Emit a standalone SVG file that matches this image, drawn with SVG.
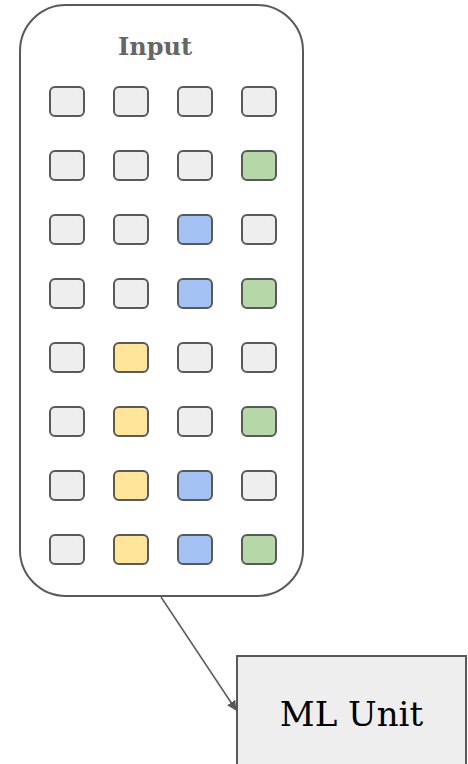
<svg xmlns="http://www.w3.org/2000/svg" width="468" height="764" viewBox="0 0 468 764">
<style>
.c{stroke:#595959;stroke-width:2}
.w{fill:#eeeeee}.y{fill:#ffe599}.b{fill:#a4c2f4}.g{fill:#b6d7a8}
</style>
<defs>
<marker id="ah" markerWidth="10" markerHeight="10" refX="9" refY="5" orient="auto" markerUnits="userSpaceOnUse">
<path d="M0,0 L10,5 L0,10 z" fill="#595959"/>
</marker>
</defs>
<g id="input">
<rect x="20" y="5" width="283" height="591" rx="46" fill="#ffffff" stroke="#595959" stroke-width="2"/>
<text x="155" y="55" text-anchor="middle" font-family="DejaVu Serif, serif" font-weight="bold" font-size="24" fill="#666666">Input</text>
</g>
<g id="cells">
<g transform="translate(50,87)">
<rect class="c w" x="0" y="0" width="34" height="29" rx="5"/><rect class="c w" x="64" y="0" width="34" height="29" rx="5"/><rect class="c w" x="128" y="0" width="34" height="29" rx="5"/><rect class="c w" x="192" y="0" width="34" height="29" rx="5"/>
<rect class="c w" x="0" y="64" width="34" height="29" rx="5"/><rect class="c w" x="64" y="64" width="34" height="29" rx="5"/><rect class="c w" x="128" y="64" width="34" height="29" rx="5"/><rect class="c g" x="192" y="64" width="34" height="29" rx="5"/>
<rect class="c w" x="0" y="128" width="34" height="29" rx="5"/><rect class="c w" x="64" y="128" width="34" height="29" rx="5"/><rect class="c b" x="128" y="128" width="34" height="29" rx="5"/><rect class="c w" x="192" y="128" width="34" height="29" rx="5"/>
<rect class="c w" x="0" y="192" width="34" height="29" rx="5"/><rect class="c w" x="64" y="192" width="34" height="29" rx="5"/><rect class="c b" x="128" y="192" width="34" height="29" rx="5"/><rect class="c g" x="192" y="192" width="34" height="29" rx="5"/>
<rect class="c w" x="0" y="256" width="34" height="29" rx="5"/><rect class="c y" x="64" y="256" width="34" height="29" rx="5"/><rect class="c w" x="128" y="256" width="34" height="29" rx="5"/><rect class="c w" x="192" y="256" width="34" height="29" rx="5"/>
<rect class="c w" x="0" y="320" width="34" height="29" rx="5"/><rect class="c y" x="64" y="320" width="34" height="29" rx="5"/><rect class="c w" x="128" y="320" width="34" height="29" rx="5"/><rect class="c g" x="192" y="320" width="34" height="29" rx="5"/>
<rect class="c w" x="0" y="384" width="34" height="29" rx="5"/><rect class="c y" x="64" y="384" width="34" height="29" rx="5"/><rect class="c b" x="128" y="384" width="34" height="29" rx="5"/><rect class="c w" x="192" y="384" width="34" height="29" rx="5"/>
<rect class="c w" x="0" y="448" width="34" height="29" rx="5"/><rect class="c y" x="64" y="448" width="34" height="29" rx="5"/><rect class="c b" x="128" y="448" width="34" height="29" rx="5"/><rect class="c g" x="192" y="448" width="34" height="29" rx="5"/>
</g>
</g>
<g id="ml-unit">
<rect x="237" y="656" width="229" height="130" fill="#eeeeee" stroke="#595959" stroke-width="2"/>
<text x="351.5" y="726" text-anchor="middle" font-family="DejaVu Serif, serif" font-size="34" fill="#000000">ML Unit</text>
</g>
<g id="connectors">
<line x1="161" y1="597" x2="236" y2="710" stroke="#595959" stroke-width="1.5" marker-end="url(#ah)"/>
</g>
</svg>
